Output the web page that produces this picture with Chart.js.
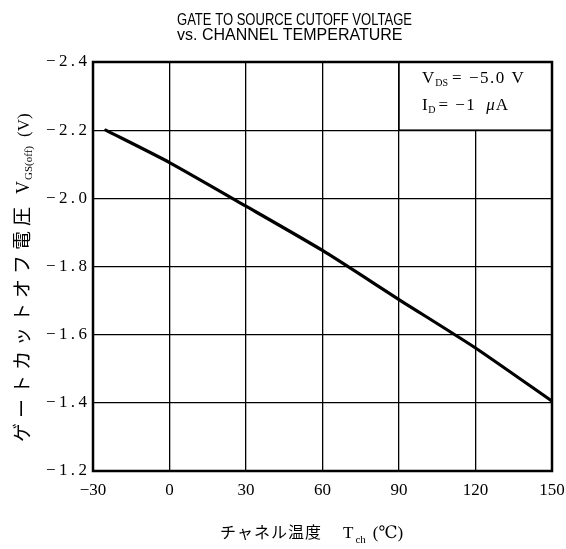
<!DOCTYPE html>
<html lang="ja">
<head>
<meta charset="utf-8">
<title>VGS(off) vs Tch</title>
<script src="https://cdn.jsdelivr.net/npm/chart.js@4.4.1/dist/chart.umd.min.js"></script>
<style>
    body { margin: 0; background: #fff; }
    #boite { position: relative; width: 566px; height: 549px; }
</style>
</head>
<body>
<div id="boite"><canvas id="graphique-vgs"></canvas></div>
<script>
// données
const temperatures = [-25, 0, 30, 60, 90, 120, 150];
const tensionsVgs = [-2.20, -2.105, -1.977, -1.847, -1.703, -1.561, -1.405];
const ticksX = [-30, 0, 30, 60, 90, 120, 150];
const ticksY = [-2.4, -2.2, -2.0, -1.8, -1.6, -1.4, -1.2];

const titreLignes = ['GATE TO SOURCE CUTOFF VOLTAGE', 'vs. CHANNEL TEMPERATURE'];
const serif = '"Liberation Serif", "DejaVu Serif", serif';
const jp = '"Noto Sans CJK JP", sans-serif';

// formatage des valeurs négatives avec le signe moins espacé
function formatY(v) {
    const s = Math.abs(v).toFixed(1);
    return '\u2212\u2009' + s[0] + '\u2009.\u2009' + s[2];
}
function formatX(v) {
    return v < 0 ? '\u2212' + Math.abs(v) : String(v);
}

// texte composé (indices, espacement) dessiné morceau par morceau
function texteRiche(ctx, x, y, morceaux) {
    let cx = x;
    morceaux.forEach(m => {
        cx += m.avant || 0;
        ctx.font = m.font;
        ctx.letterSpacing = m.ls || '0px';
        ctx.fillText(m.t, cx, y + (m.dy || 0));
        cx += ctx.measureText(m.t).width;
    });
    ctx.letterSpacing = '0px';
}

const decorPlugin = {
    id: 'decor',
    beforeDatasetsDraw(chart) {
        // cadre blanc des conditions de mesure
        const { ctx, scales: { x, y } } = chart;
        const x0 = x.getPixelForValue(90), x1 = x.getPixelForValue(150);
        const y0 = y.getPixelForValue(-2.4), y1 = y.getPixelForValue(-2.2);
        ctx.save();
        ctx.fillStyle = '#fff';
        ctx.fillRect(x0, y0, x1 - x0, y1 - y0);
        ctx.strokeStyle = '#000';
        ctx.lineWidth = 1.5;
        ctx.strokeRect(x0, y0, x1 - x0, y1 - y0);
        ctx.restore();
    },
    afterDraw(chart) {
        const { ctx, chartArea: a } = chart;
        ctx.save();
        ctx.fillStyle = '#000';
        ctx.strokeStyle = '#000';

        // cadre du graphique
        ctx.lineWidth = 2.5;
        ctx.strokeRect(a.left, a.top, a.right - a.left, a.bottom - a.top);

        // titre
        ctx.textAlign = 'left';
        ctx.textBaseline = 'alphabetic';
        ctx.font = '16px "Liberation Sans", Arial, sans-serif';
        ctx.fillText(titreLignes[0], 177, 25, 235);
        ctx.fillText(titreLignes[1], 177, 40, 227);

        // conditions
        texteRiche(ctx, 422, 83, [
            { t: 'V', font: '17px ' + serif },
            { t: 'DS', font: '10px ' + serif, dy: 3, avant: 1 },
            { t: '= \u22125.0 V', font: '17px ' + serif, ls: '1.5px', avant: 4 }
        ]);
        texteRiche(ctx, 422, 110, [
            { t: 'I', font: '17px ' + serif },
            { t: 'D', font: '10px ' + serif, dy: 3, avant: 0.5 },
            { t: '= \u22121', font: '17px ' + serif, ls: '1.5px', avant: 3 },
            { t: '\u03bc', font: 'italic 17px ' + serif, avant: 10 },
            { t: 'A', font: '17px ' + serif, avant: 1 }
        ]);

        // titre de l'axe X
        texteRiche(ctx, 220, 538, [
            { t: 'チャネル温度', font: '16px ' + jp, ls: '1px' },
            { t: 'T', font: '17px ' + serif, avant: 21 },
            { t: 'ch', font: '11px ' + serif, dy: 5, avant: 2 },
            { t: '(\u2103)', font: '17px ' + serif + ', ' + jp, avant: 7 }
        ]);

        // titre de l'axe Y (vertical, de bas en haut)
        ctx.translate(29, 442);
        ctx.rotate(-Math.PI / 2);
        texteRiche(ctx, 0, 0, [
            { t: 'ゲートカットオフ電圧', font: '19px ' + jp, ls: '5px' },
            { t: 'V', font: '18px ' + serif, avant: 8 },
            { t: 'GS(off)', font: '11px ' + serif, dy: 3, avant: 1 },
            { t: '(V)', font: '17px ' + serif, avant: 9 }
        ]);
        ctx.restore();
    }
};

const ctx = document.getElementById('graphique-vgs').getContext('2d');
new Chart(ctx, {
    type: 'line',
    data: {
        datasets: [{
            data: temperatures.map((t, i) => ({ x: t, y: tensionsVgs[i] })),
            borderColor: '#000',
            borderWidth: 3.2,
            borderCapStyle: 'round',
            pointRadius: 0,
            fill: false,
            tension: 0.2
        }]
    },
    options: {
        responsive: true,
        maintainAspectRatio: false,
        animation: false,
        layout: { padding: { top: 62, right: 14, left: 0, bottom: 0 } },
        plugins: {
            legend: { display: false },
            tooltip: { enabled: false }
        },
        scales: {
            x: {
                type: 'linear',
                min: -30,
                max: 150,
                // hauteur fixe et pas de marge auto pour le dernier label
                afterFit: s => { s.height = 78; s.paddingLeft = 0; s.paddingRight = 0; },
                afterBuildTicks: s => { s.ticks = ticksX.map(v => ({ value: v })); },
                grid: { color: '#000', lineWidth: 1.3, drawTicks: false },
                border: { display: false },
                ticks: {
                    autoSkip: false,
                    maxRotation: 0,
                    padding: 9,
                    color: '#000',
                    font: { family: serif, size: 17 },
                    callback: v => formatX(v)
                }
            },
            y: {
                type: 'linear',
                min: -2.4,
                max: -1.2,
                reverse: true,
                afterFit: s => { s.width = 93; s.paddingTop = 0; s.paddingBottom = 0; },
                afterBuildTicks: s => { s.ticks = ticksY.map(v => ({ value: v })); },
                grid: { color: '#000', lineWidth: 1.3, drawTicks: false },
                border: { display: false },
                ticks: {
                    autoSkip: false,
                    padding: 6,
                    color: '#000',
                    font: { family: serif, size: 17 },
                    callback: v => formatY(v)
                }
            }
        }
    },
    plugins: [decorPlugin]
});
</script>
</body>
</html>
